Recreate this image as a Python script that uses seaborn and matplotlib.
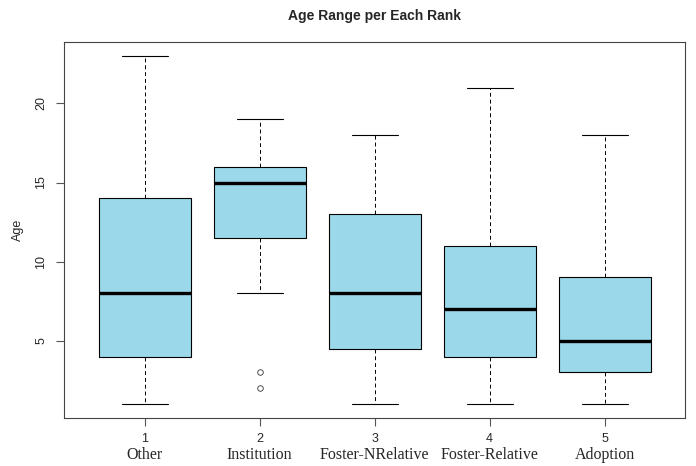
import matplotlib
matplotlib.use("Agg")
import matplotlib.pyplot as plt
import seaborn as sns
import pandas as pd

# ---- data ----
categories = ["Other", "Institution", "Foster-NRelative", "Foster-Relative", "Adoption"]
tick_numbers = ["1", "2", "3", "4", "5"]
age_other = [1, 4, 8, 14, 23]
age_institution = [2, 3, 8, 11.5, 13, 14, 15, 15, 16, 16, 17, 18, 19]
age_foster_nrel = [1, 4.5, 8, 13, 18]
age_foster_rel = [1, 4, 7, 11, 21]
age_adoption = [1, 3, 5, 9, 18]
y_ticks = [5, 10, 15, 20]

groups = [age_other, age_institution, age_foster_nrel, age_foster_rel, age_adoption]
df = pd.DataFrame({
    "Rank": [c for c, g in zip(categories, groups) for _ in g],
    "Age": [v for g in groups for v in g],
})

sns.set_style("white")
plt.rcParams["font.family"] = ["Liberation Sans", "DejaVu Sans"]

fig = plt.figure(figsize=(6.96, 4.66), dpi=100)
ax = fig.add_axes([64 / 696, 48 / 466, 621 / 696, 376 / 466])

sns.boxplot(
    data=df, x="Rank", y="Age", order=categories, ax=ax,
    color="#9AD8EA", saturation=1, linecolor="black", linewidth=0.8,
    width=0.8, whis=1.5,
    medianprops=dict(linewidth=2.4, color="black"),
    whiskerprops=dict(linestyle=(0, (4, 3)), linewidth=0.7),
    capprops=dict(linewidth=0.8),
    flierprops=dict(marker="o", markerfacecolor="none", markeredgecolor="#333333",
                    markersize=4, markeredgewidth=0.6),
)

ax.set_xlim(-0.7, 4.7)
ax.set_ylim(0.12, 23.88)
ax.set_yticks(y_ticks)
ax.set_yticklabels([str(t) for t in y_ticks], rotation=90, va="center", fontsize=9)
ax.set_xticks(range(len(categories)))
ax.set_xticklabels(tick_numbers, fontsize=9)
ax.set_xlabel("")
ax.set_ylabel("")
ax.tick_params(axis="both", direction="out", length=6, width=0.8, color="#555555",
               bottom=True, left=True)
ax.tick_params(axis="x", pad=4.5)
ax.tick_params(axis="y", pad=6)
for s in ax.spines.values():
    s.set_color("#444444")
    s.set_linewidth(0.8)

for i, name in enumerate(categories):
    ax.text(i, -0.109, name, transform=ax.get_xaxis_transform(), ha="center", va="baseline",
            fontsize=11.5, family=["Liberation Serif", "DejaVu Serif"])

fig.text(18 / 696, 1 - 230 / 466, "Age", rotation=90, ha="center", va="center", fontsize=9)
fig.text(374.5 / 696, 1 - 16 / 466, "Age Range per Each Rank", ha="center", va="center",
         fontsize=10, fontweight="bold")

fig.savefig("out.png", dpi=100)
